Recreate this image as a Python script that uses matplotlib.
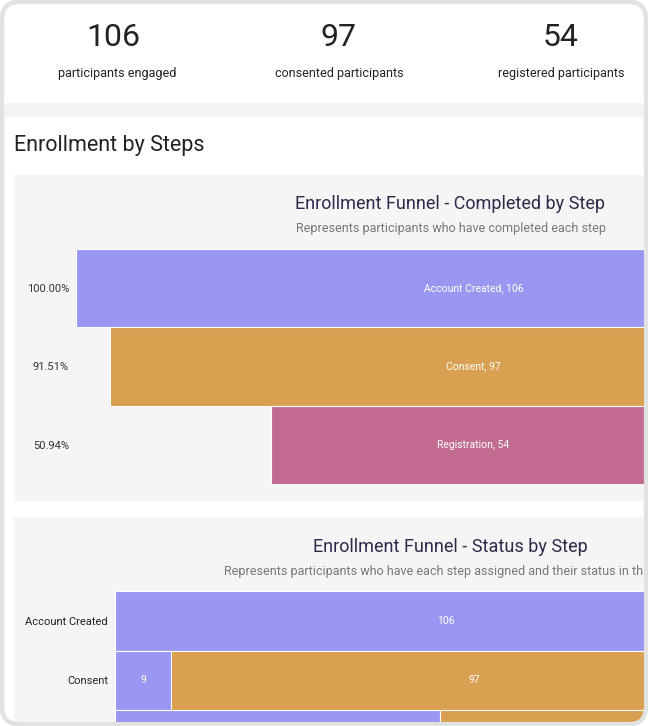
import matplotlib.pyplot as plt
from matplotlib.patches import Rectangle, FancyBboxPatch

plt.rcParams['font.family'] = ['Roboto', 'DejaVu Sans']

# KPI cards
kpi_values = ['106', '97', '54']
kpi_labels = ['participants engaged', 'consented participants', 'registered participants']

# funnel 1 - completed by step
steps = ['Account Created', 'Consent', 'Registration']
completed = [106, 97, 54]
step_colors = ['#9a97f2', '#d8a050', '#c26b91']

# funnel 2 - status by step (stacked)
not_completed = [106, 9, 52]
done = [0, 97, 54]

W, H = 648, 726
fig = plt.figure(figsize=(W / 100, H / 100), dpi=100)
fig.patch.set_facecolor('white')


def box(x0, y0, x1, y1):
    # pixel box (top-left origin) -> figure fraction rect
    return [x0 / W, 1 - y1 / H, (x1 - x0) / W, (y1 - y0) / H]


def fx(x):
    return x / W


def fy(y):
    return 1 - y / H


# outer frame
frame = FancyBboxPatch((fx(2), fy(724)), fx(644), (722) / H,
                       boxstyle='round,pad=0,rounding_size=0.025',
                       transform=fig.transFigure, facecolor='white',
                       edgecolor='#e2e2e2', linewidth=3, zorder=-3)
fig.patches.append(frame)
clip = FancyBboxPatch((fx(3.5), fy(723)), fx(642), 720 / H,
                      boxstyle='round,pad=0,rounding_size=0.023',
                      transform=fig.transFigure, facecolor='none',
                      edgecolor='none')

# grey band between kpis and content
fig.patches.append(Rectangle((fx(3.5), fy(117)), fx(642), 14 / H,
                             transform=fig.transFigure, facecolor='#f3f3f5',
                             edgecolor='none', zorder=-2))
# chart panels
for y0, y1 in [(175, 502), (517, 760)]:
    r = Rectangle((fx(14), fy(y1)), fx(640), (y1 - y0) / H,
                  transform=fig.transFigure, facecolor='#f5f5f5',
                  edgecolor='none', zorder=-2)
    r.set_clip_path(clip)
    fig.patches.append(r)

# KPI text
for cx, lx, v, lab in zip([113, 339, 561], [117, 339, 561], kpi_values, kpi_labels):
    fig.text(fx(cx), fy(38), v, ha='center', va='center', fontsize=23, color='#222222')
    fig.text(fx(lx), fy(73), lab, ha='center', va='center', fontsize=9, color='#222222')

fig.text(fx(14), fy(146), 'Enrollment by Steps', ha='left', va='center',
         fontsize=15.5, color='#222222')

# ---- funnel 1
fig.text(fx(450), fy(204), 'Enrollment Funnel - Completed by Step', ha='center',
         va='center', fontsize=13, color='#2a2a4a')
fig.text(fx(451), fy(228), 'Represents participants who have completed each step',
         ha='center', va='center', fontsize=9, color='#777777')

ax1 = fig.add_axes(box(76, 249, 648, 484))
ax1.patch.set_alpha(0)
scale1 = 7.5
pos = list(range(len(steps)))
lefts = [-v / 2 for v in completed]
bars = ax1.barh(pos, completed, left=lefts, height=1, color=step_colors,
                edgecolor='white', linewidth=0.8)
for b in bars:
    b.set_clip_path(clip)
for p, s, v in zip(pos, steps, completed):
    ax1.text(0, p, f'{s}, {v}', ha='center', va='center', fontsize=7.5, color='white')
ax1.set_xlim(-completed[0] / 2, -completed[0] / 2 + 572 / scale1)
ax1.set_ylim(len(steps) - 0.5, -0.5)
ax1.set_yticks(pos)
ax1.set_yticklabels([f'{v / completed[0] * 100:.2f}%' for v in completed],
                    fontsize=8, color='#333333')
ax1.tick_params(left=False, bottom=False, labelbottom=False, length=0, pad=5)
for sp in ax1.spines.values():
    sp.set_visible(False)

# ---- funnel 2
fig.text(fx(450), fy(547), 'Enrollment Funnel - Status by Step', ha='center',
         va='center', fontsize=13, color='#2a2a4a')
fig.text(fx(224), fy(571), 'Represents participants who have each step assigned '
         'and their status in that step', ha='left', va='center',
         fontsize=9, color='#777777')

ax2 = fig.add_axes(box(115, 591, 648, 769.5))
ax2.patch.set_alpha(0)
scale2 = 6.25
b1 = ax2.barh(pos, not_completed, height=1, color='#9a97f2',
              edgecolor='white', linewidth=0.8)
b2 = ax2.barh(pos, done, left=not_completed, height=1, color='#d8a050',
              edgecolor='white', linewidth=0.8)
for b in list(b1) + list(b2):
    b.set_clip_path(clip)
ax2.set_xlim(0, 533 / scale2)
ax2.set_ylim(len(steps) - 0.5, -0.5)

# only rows whose centre is inside the picture get labels
fig.canvas.draw()
visible = [p for p in pos if ax2.transData.transform((0, p))[1] > 0]
for p in visible:
    a, d = not_completed[p], done[p]
    if a:
        ax2.text(a / 2, p, str(a), ha='center', va='center', fontsize=7.5, color='white')
    if d:
        ax2.text(a + d / 2, p, str(d), ha='center', va='center', fontsize=7.5, color='white')
ax2.set_yticks(visible)
ax2.set_yticklabels([steps[p] for p in visible], fontsize=8, color='#222222')
ax2.tick_params(left=False, bottom=False, labelbottom=False, length=0, pad=5)
for sp in ax2.spines.values():
    sp.set_visible(False)

# redraw frame border on top
top = FancyBboxPatch((fx(2), fy(724)), fx(644), 722 / H,
                     boxstyle='round,pad=0,rounding_size=0.025',
                     transform=fig.transFigure, facecolor='none',
                     edgecolor='#e2e2e2', linewidth=3, zorder=10)
fig.patches.append(top)

fig.savefig('out.png', dpi=100, facecolor='white')
